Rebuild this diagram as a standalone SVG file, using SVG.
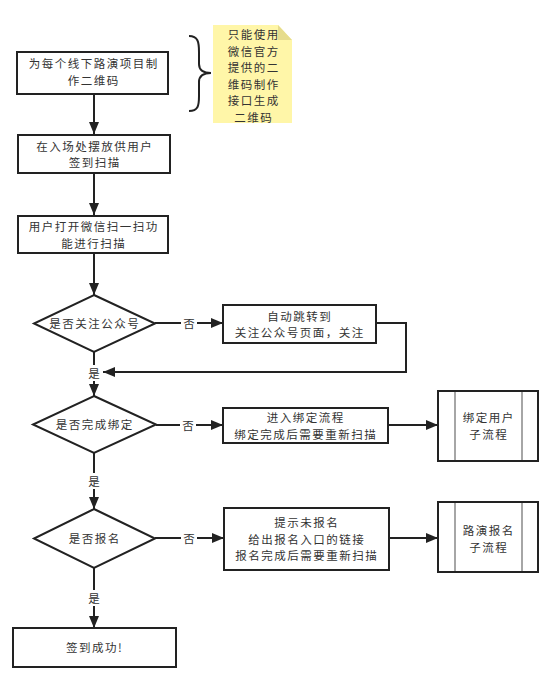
<svg xmlns="http://www.w3.org/2000/svg" width="544" height="673" viewBox="0 0 544 673">
<defs>
<marker id="ah" viewBox="0 0 12 10" refX="12" refY="5" markerWidth="12" markerHeight="10" markerUnits="userSpaceOnUse" orient="auto">
<path d="M0,0 L12,5 L0,10 z" fill="#222"/>
</marker>
</defs>
<style>
.bx{fill:#fff;stroke:#222;stroke-width:2}
.ln{fill:none;stroke:#222;stroke-width:2}
.in{stroke:#888;stroke-width:1.5}
.t{font-family:"Noto Sans CJK SC","Noto Sans",sans-serif;font-size:11.5px;letter-spacing:1.5px;fill:#333;text-anchor:middle;dominant-baseline:central}
.lb{fill:#fff}
</style>
<rect width="544" height="673" fill="#fff"/>
<g id="connectors">
<path class="ln" d="M94,94 V134" marker-end="url(#ah)"/>
<path class="ln" d="M94,173 V215" marker-end="url(#ah)"/>
<path class="ln" d="M94,253 V295" marker-end="url(#ah)"/>
<path class="ln" d="M155,323 H223" marker-end="url(#ah)"/>
<path class="ln" d="M376,323 H406 V372 H103" marker-end="url(#ah)"/>
<path class="ln" d="M94,352 V396" marker-end="url(#ah)"/>
<path class="ln" d="M156,425 H223" marker-end="url(#ah)"/>
<path class="ln" d="M388,425 H438" marker-end="url(#ah)"/>
<path class="ln" d="M94,453 V509" marker-end="url(#ah)"/>
<path class="ln" d="M155,538 H224" marker-end="url(#ah)"/>
<path class="ln" d="M389,538 H438" marker-end="url(#ah)"/>
<path class="ln" d="M94,568 V628" marker-end="url(#ah)"/>
<rect class="lb" x="181" y="315" width="16" height="16"/><text class="t" x="189.7" y="323">否</text>
<rect class="lb" x="86" y="365" width="16" height="16"/><text class="t" x="94.7" y="373">是</text>
<rect class="lb" x="180" y="417" width="16" height="16"/><text class="t" x="188.7" y="425">否</text>
<rect class="lb" x="86" y="473" width="16" height="16"/><text class="t" x="94.7" y="481">是</text>
<rect class="lb" x="181" y="530" width="16" height="16"/><text class="t" x="189.7" y="538">否</text>
<rect class="lb" x="86" y="590" width="16" height="16"/><text class="t" x="94.7" y="598">是</text>
</g>
<g id="brace">
<path class="ln" d="M189,36 C198,36 199,42 199,52 V64 C199,70 203,73 211,73 C203,73 199,76 199,82 V96 C199,106 198,111 189,111"/>
</g>
<g id="note">
<path d="M213,25 H278 L292,40 V123 H213 z" fill="#fff6a8"/>
<path d="M278,25 L292,40 H278 z" fill="#e6dc8c"/>
<text class="t" x="253.7" y="34">只能使用</text>
<text class="t" x="253.7" y="50.5">微信官方</text>
<text class="t" x="253.7" y="67">提供的二</text>
<text class="t" x="253.7" y="83.5">维码制作</text>
<text class="t" x="253.7" y="100">接口生成</text>
<text class="t" x="253.7" y="116.5">二维码</text>
</g>
<g id="n1">
<rect class="bx" x="17" y="52" width="151" height="42"/>
<text class="t" x="93.7" y="63">为每个线下路演项目制</text>
<text class="t" x="93.7" y="80">作二维码</text>
</g>
<g id="n2">
<rect class="bx" x="18" y="135" width="152" height="38"/>
<text class="t" x="94.7" y="145.5">在入场处摆放供用户</text>
<text class="t" x="94.7" y="162">签到扫描</text>
</g>
<g id="n3">
<rect class="bx" x="18" y="216" width="150" height="37"/>
<text class="t" x="93.7" y="226">用户打开微信扫一扫功</text>
<text class="t" x="93.7" y="242.5">能进行扫描</text>
</g>
<g id="d1">
<path class="bx" d="M94,295 L155,323.5 L94,352 L34,323.5 z"/>
<text class="t" x="94.7" y="323">是否关注公众号</text>
</g>
<g id="n4">
<rect class="bx" x="223" y="305" width="153" height="38"/>
<text class="t" x="299.7" y="315.5">自动跳转到</text>
<text class="t" x="299.7" y="332">关注公众号页面，关注</text>
</g>
<g id="d2">
<path class="bx" d="M94,396 L156,424.5 L94,453 L33,424.5 z"/>
<text class="t" x="94.7" y="424">是否完成绑定</text>
</g>
<g id="n5">
<rect class="bx" x="223" y="408" width="165" height="35"/>
<text class="t" x="305.7" y="417">进入绑定流程</text>
<text class="t" x="305.7" y="433.5">绑定完成后需要重新扫描</text>
</g>
<g id="s1">
<rect class="bx" x="438" y="391" width="100" height="70"/>
<line class="in" x1="455" y1="392" x2="455" y2="460"/>
<line class="in" x1="522" y1="392" x2="522" y2="460"/>
<text class="t" x="488.7" y="417">绑定用户</text>
<text class="t" x="488.7" y="434">子流程</text>
</g>
<g id="d3">
<path class="bx" d="M94,509 L155,538.5 L94,568 L34,538.5 z"/>
<text class="t" x="94.7" y="538">是否报名</text>
</g>
<g id="n6">
<rect class="bx" x="224" y="508" width="165" height="62"/>
<text class="t" x="306.7" y="522">提示未报名</text>
<text class="t" x="306.7" y="538.5">给出报名入口的链接</text>
<text class="t" x="306.7" y="555">报名完成后需要重新扫描</text>
</g>
<g id="s2">
<rect class="bx" x="438" y="502" width="100" height="70"/>
<line class="in" x1="455" y1="503" x2="455" y2="571"/>
<line class="in" x1="522" y1="503" x2="522" y2="571"/>
<text class="t" x="488.7" y="530">路演报名</text>
<text class="t" x="488.7" y="547">子流程</text>
</g>
<g id="n7">
<rect class="bx" x="13" y="628" width="163" height="39"/>
<text class="t" x="94.7" y="647">签到成功!</text>
</g>
</svg>
